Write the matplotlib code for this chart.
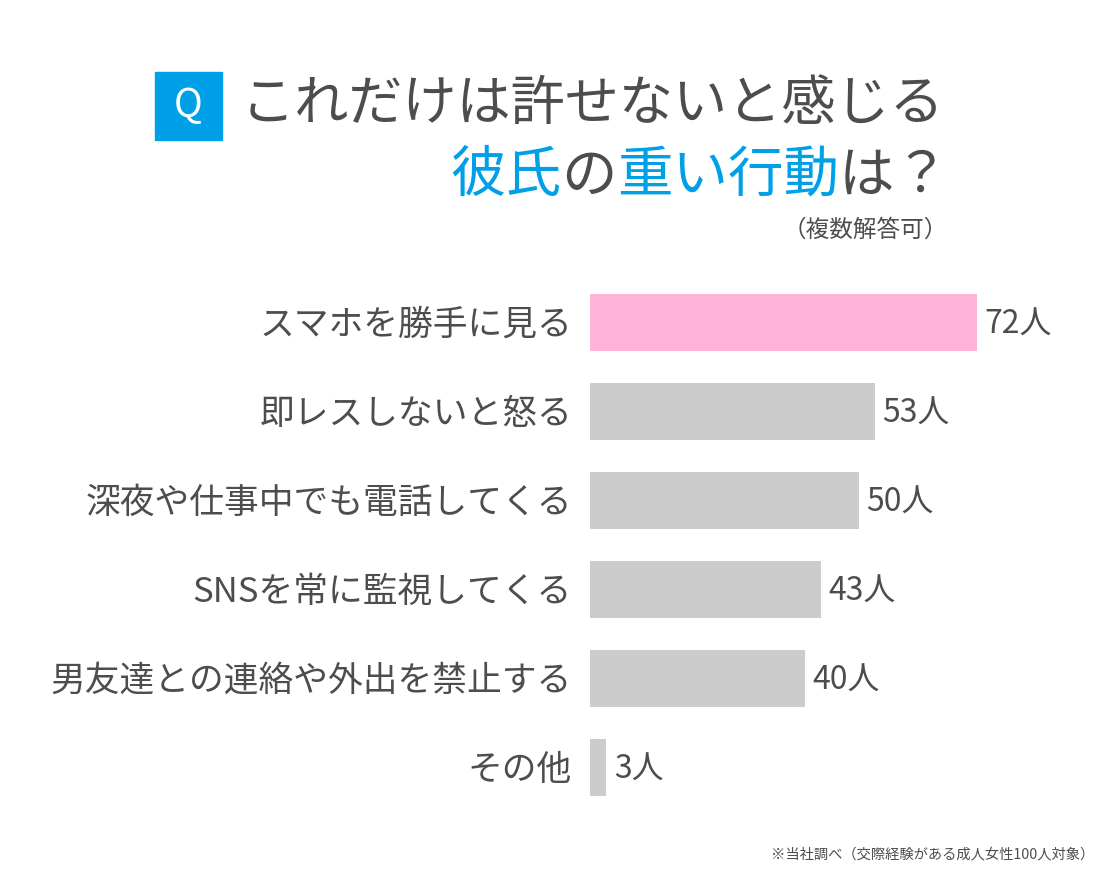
import matplotlib
matplotlib.use("Agg")
import matplotlib.pyplot as plt
from matplotlib.patches import Rectangle

plt.rcParams['font.family'] = ['Noto Sans CJK JP', 'DejaVu Sans']

categories = ['スマホを勝手に見る', '即レスしないと怒る', '深夜や仕事中でも電話してくる',
              'SNSを常に監視してくる', '男友達との連絡や外出を禁止する', 'その他']
counts = [72, 53, 50, 43, 40, 3]
bar_colors = ['#FFB3D9', '#CCCCCC', '#CCCCCC', '#CCCCCC', '#CCCCCC', '#CCCCCC']

TEXT = '#4D4D4D'
BLUE = '#00A0E9'
W, H = 1100, 869

fig = plt.figure(figsize=(W / 100, H / 100), dpi=100)
fig.patch.set_facecolor('white')

# bar area in pixels: x 590..1020 (0..80), y 278..812
ax = fig.add_axes([590 / W, 1 - 812 / H, 430 / W, 534 / H])
ypos = range(len(categories))
ax.barh(ypos, counts, height=0.63, color=bar_colors)
ax.set_xlim(0, 80)
ax.set_ylim(len(categories) - 0.5, -0.5)
ax.axis('off')

for i, (cat, v) in enumerate(zip(categories, counts)):
    ax.text(v + 1.4, i + 0.03, f'{v}人', ha='left', va='center', fontsize=23, color=TEXT)
    ax.annotate(cat, xy=(0, i + 0.03), xytext=(-13, 0), textcoords='offset points',
                ha='right', va='center', fontsize=25, color=TEXT)

# Q box
fig.patches.append(Rectangle((155 / W, 1 - 140 / H), 67 / W, 68 / H,
                             transform=fig.transFigure, color=BLUE))
fig.text(188.5 / W, 1 - 106 / H, 'Q', ha='center', va='center', fontsize=28, color='white')

fig.text(241 / W, 1 - 104 / H, 'これだけは許せないと感じる', ha='left', va='center',
         fontsize=39, color=TEXT)

# second title line with colored parts, right-aligned
parts = [('彼氏', BLUE), ('の', TEXT), ('重い行動', BLUE), ('は？', TEXT)]
renderer = fig.canvas.get_renderer()
texts = []
for s, c in parts:
    t = fig.text(0, 1 - 176 / H, s, ha='left', va='center', fontsize=40, color=c)
    texts.append(t)
widths = [t.get_window_extent(renderer).width for t in texts]
x = 950 - sum(widths)
for t, w in zip(texts, widths):
    t.set_x(x / W)
    x += w

fig.text(948 / W, 1 - 230 / H, '（複数解答可）', ha='right', va='center', fontsize=17, color=TEXT)

fig.text(1094 / W, 1 - 855 / H, '※当社調べ（交際経験がある成人女性100人対象）', ha='right', va='center',
         fontsize=10.3, color=TEXT)

fig.savefig('out.png', dpi=100, facecolor='white')
